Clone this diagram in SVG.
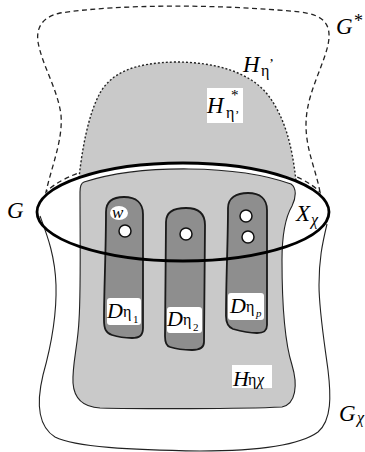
<svg xmlns="http://www.w3.org/2000/svg" width="365" height="452" viewBox="0 0 365 452">
<style>
.t{font-family:"Liberation Serif","Times New Roman",serif;fill:#000}
.i{font-style:italic}
.big{font-size:23px}
.sub{font-size:16px}
.small{font-size:11px}
.box{fill:#fff;stroke:none}
.dash{fill:none;stroke:#222;stroke-width:1.3;stroke-dasharray:5 3.5}
.dot{fill:none;stroke:#222;stroke-width:1.4;stroke-dasharray:2 2}
.thin{fill:none;stroke:#222;stroke-width:1.1}
.light{fill:#c9c9c9}
.dark{fill:#8e8e8e;stroke:#1a1a1a;stroke-width:1.8}
.hole{fill:#fff;stroke:#111;stroke-width:1.5}
</style>
<rect width="365" height="452" fill="#fff"/>
<g id="Gstar">
<path class="dash" d="M 320,192 C 316,170 306,150 306,125 C 306,95 322,70 328,45 C 332,25 325,15 300,12 C 220,4 120,4 60,13 C 42,17 36,28 38,42 C 42,65 58,90 61,115 C 63,140 52,165 46,192 A 146 54 0 0 1 320,192 Z"/>
<text class="t i big" x="336" y="34">G</text>
<text class="t" style="font-size:18px" x="354" y="27">*</text>
</g>
<g id="Heta1">
<path class="light" d="M 79,178 C 82,150 88,115 100,93 C 112,72 135,63 175,62 C 215,62 250,72 268,95 C 285,118 292,145 296,181 A 146 49 0 0 0 79,178 Z"/>
<path class="dot" d="M 79,178 C 82,150 88,115 100,93 C 112,72 135,63 175,62 C 215,62 250,72 268,95 C 285,118 292,145 296,181"/>
<text class="t i big" x="243" y="72">H</text>
<text class="t sub" x="261" y="76">η</text>
<text class="t" style="font-size:15px" x="269" y="69">’</text>
<rect class="box" x="207" y="88" width="36" height="35"/>
<text class="t i big" x="207" y="113">H</text>
<text class="t" style="font-size:15px" x="231" y="100">*</text>
<text class="t sub" x="226" y="118">η</text>
<text class="t" style="font-size:13px" x="235" y="119">’</text>
</g>
<g id="Gx">
<path class="thin" d="M 40,216 C 47,235 55,255 56,285 C 57,320 50,350 43,375 C 37,400 36,425 55,437 C 75,447 130,450 200,451 C 260,451 300,445 318,432 C 332,420 331,395 328,370 C 324,340 319,310 319,285 C 319,260 322,245 327,224"/>
<text class="t i big" x="339" y="421">G</text>
<text class="t i sub" x="357" y="423">χ</text>
</g>
<g id="Hetax">
<path class="light" stroke="#222" stroke-width="1.1" d="M 80,192 C 80,186 81,183 84,182 A 140 43 0 0 1 291,184 C 297,188 296,198 292,206 C 285,218 282,235 282,260 C 282,300 284,340 292,365 C 298,385 296,404 282,407 C 240,409 140,409 100,408 C 82,407 74,397 73,383 C 72,365 78,345 79,320 C 81,290 80,240 80,192 Z"/>
<rect class="box" x="232" y="365" width="40" height="23"/>
<text class="t i" style="font-size:22px" x="233" y="386">H</text>
<text class="t sub" x="248" y="385">η</text>
<text class="t i sub" x="257" y="385">χ</text>
</g>
<g id="D1">
<path class="dark" d="M 106,212 C 106,202 112,197 124,197 C 136,197 143,203 143,214 L 143,328 C 143,336 139,338 132,338 C 125,338 118,337 112,335 C 106,333 104,329 104,320 C 104,290 106,250 106,212 Z"/>
</g>
<g id="D2">
<path class="dark" d="M 166,222 C 166,213 173,208 186,208 C 199,208 205,214 205,225 L 204,342 C 204,348 200,350 192,350 C 184,350 176,349 170,347 C 166,346 165,342 165,336 L 166,222 Z"/>
</g>
<g id="Dp">
<path class="dark" d="M 228,208 C 228,198 236,193 248,193 C 260,193 267,199 267,210 L 267,325 C 267,331 264,333 257,333 C 250,333 240,331 233,329 C 228,327 226,323 226,316 C 226,280 228,240 228,208 Z"/>
</g>
<g id="G">
<ellipse cx="183" cy="212" rx="146" ry="49" fill="none" stroke="#000" stroke-width="2.8"/>
<text class="t i big" x="7" y="218">G</text>
<text class="t i big" x="296" y="221">X</text>
<text class="t i sub" x="311" y="225">χ</text>
</g>
<g id="holes">
<ellipse cx="119" cy="213" rx="9" ry="7" fill="#fff"/>
<text class="t i" style="font-size:17px" x="112" y="218">w</text>
<circle class="hole" cx="125" cy="231" r="6"/>
<circle class="hole" cx="186" cy="234" r="6"/>
<circle class="hole" cx="246" cy="216" r="6"/>
<circle class="hole" cx="248" cy="237" r="6"/>
</g>
<g id="Dlabels">
<rect class="box" x="107" y="298" width="34" height="27" rx="3"/>
<text class="t i" style="font-size:22px" x="107" y="318">D</text>
<text class="t sub" x="123" y="317">η</text>
<text class="t small" x="133" y="323">1</text>
<rect class="box" x="167" y="307" width="35" height="26" rx="3"/>
<text class="t i" style="font-size:22px" x="167" y="326">D</text>
<text class="t sub" x="183" y="325">η</text>
<text class="t small" x="193" y="331">2</text>
<rect class="box" x="228" y="293" width="36" height="27" rx="3"/>
<text class="t i" style="font-size:22px" x="230" y="313">D</text>
<text class="t sub" x="246" y="312">η</text>
<text class="t i small" x="256" y="317">p</text>
</g>
</svg>
